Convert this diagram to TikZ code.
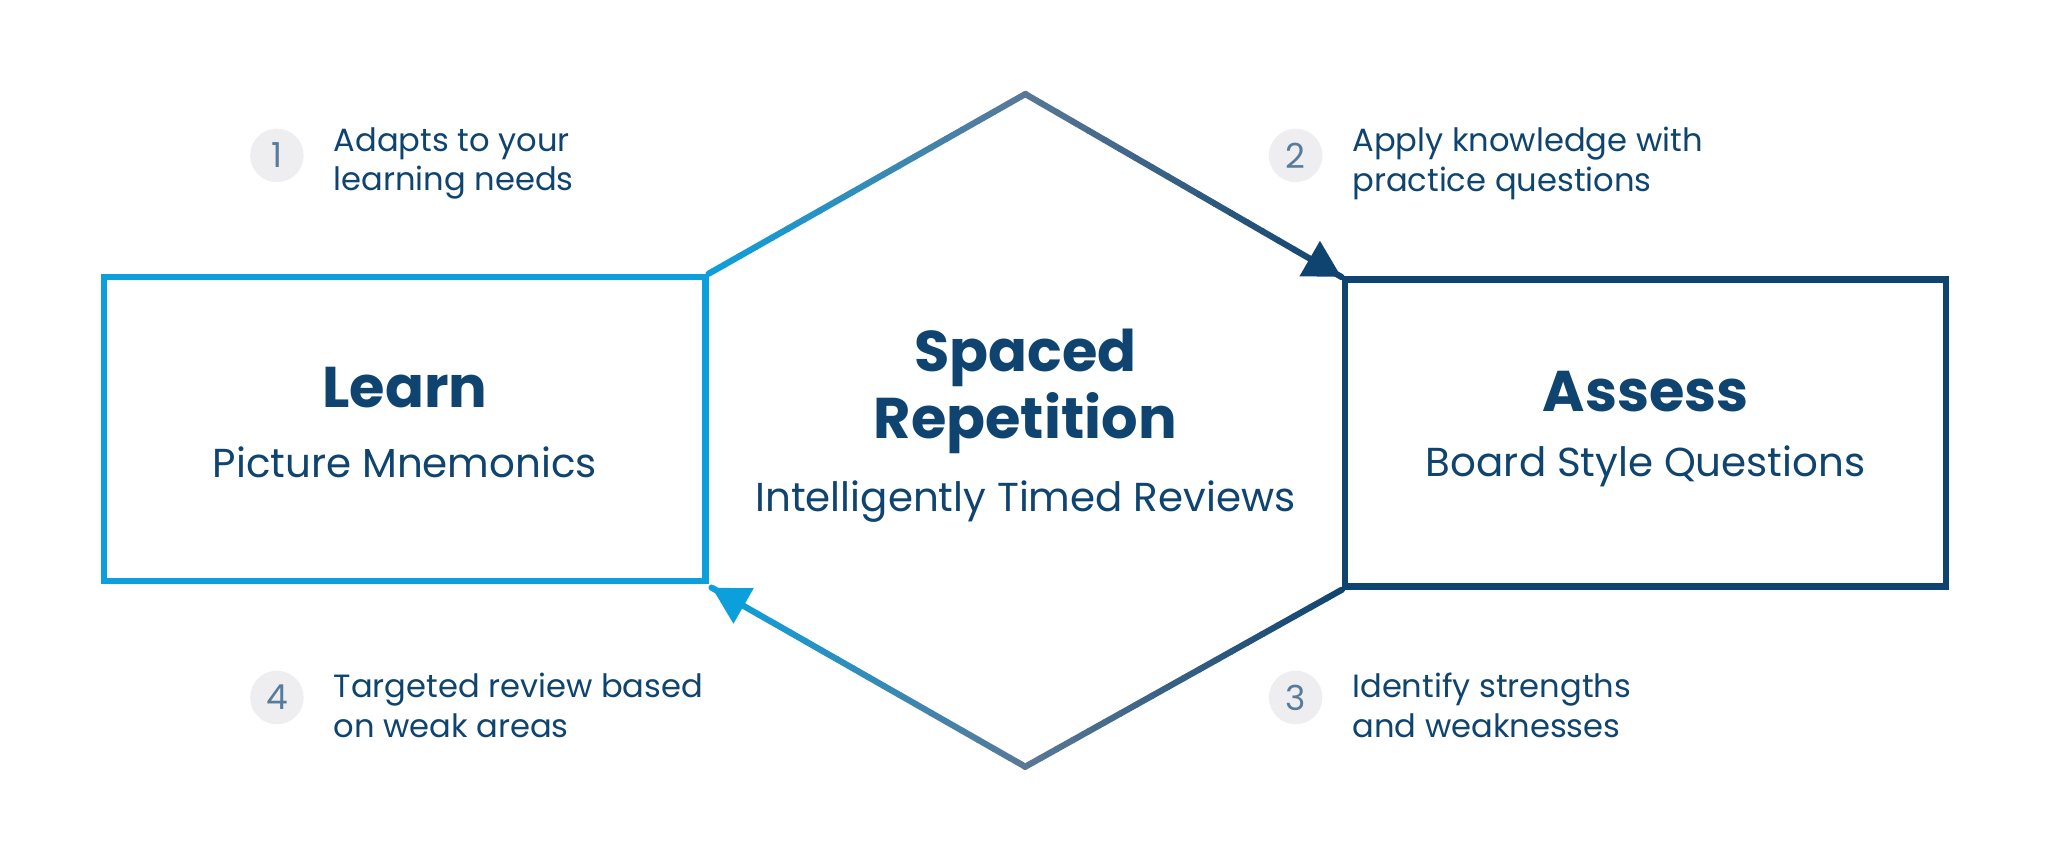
\documentclass[tikz,border=0pt]{standalone}
\usepackage{fontspec}
\setmainfont{Poppins}
\usetikzlibrary{arrows.meta,calc}
\definecolor{cA}{HTML}{0BA0DC}
\definecolor{cB}{HTML}{5A7896}
\definecolor{cC}{HTML}{0F4470}
\definecolor{cG}{HTML}{EEEEF0}
\begin{document}
\begin{tikzpicture}[x=0.01cm,y=-0.01cm,
  box/.style={draw,line width=1.35pt},
  num/.style={circle,fill=cG,minimum size=0.41cm,inner sep=0pt,text=cC!70,font=\fontsize{7.5}{9}\selectfont},
  note/.style={anchor=west,align=left,text=cC,font=\fontsize{7}{8.6}\selectfont},
  title/.style={text=cC,font=\fontsize{12.5}{13.5}\selectfont\bfseries,align=center},
  sub/.style={text=cC,font=\fontsize{8.8}{10}\selectfont}]
\useasboundingbox (0,0) rectangle (1568,660);
\node[box,draw=cA,minimum width=4.6cm,minimum height=2.33cm] (learn) at (310,328.5) {};
\node[box,draw=cC,minimum width=4.6cm,minimum height=2.35cm] (assess) at (1260,331.5) {};
\coordinate (top) at (785,72);
\coordinate (bot) at (785,587);
\coordinate (tl) at (learn.north east);
\coordinate (br) at (assess.south west);
\coordinate (ar) at (1027,212);
\coordinate (al) at (545,450);
\foreach \s/\e/\ca/\cb in {tl/top/cA/cB, top/ar/cB/cC, br/bot/cC/cB, bot/al/cB/cA}{
  \foreach \i in {0,...,19}{
    \pgfmathsetmacro\p{100-(\i+0.5)*5}
    \draw[line width=1.35pt,color=\ca!\p!\cb,line cap=round] ($(\s)!\i/20!(\e)$) -- ($(\s)!\i/20+0.051!(\e)$);
  }
}
\draw[line width=1.35pt,cC,-{Triangle[length=0.28cm,width=0.3cm]}] ($(top)!0.9!(ar)$) -- (ar);
\draw[line width=1.35pt,cA,-{Triangle[length=0.28cm,width=0.3cm]}] ($(bot)!0.9!(al)$) -- (al);
\node[title] (lt) at (310,297) {Learn};
\node[sub] (ls) at (310,354) {Picture Mnemonics};
\node[title] (at) at (1260,300) {Assess};
\node[sub] (as) at (1260,357) {Board Style Questions};
\node[title,font=\fontsize{12.5}{14.6}\selectfont\bfseries] (st) at (785,300) {Spaced\\Repetition};
\node[sub] (ss) at (785,384) {Intelligently Timed Reviews};
\node[num] (n1) at (212,119) {1};
\node[num] (n2) at (992,119) {2};
\node[num] (n3) at (992,534) {3};
\node[num] (n4) at (212,534) {4};
\node[note] at (243,125) {Adapts to your\\learning needs};
\node[note] at (1023,125) {Apply knowledge with\\practice questions};
\node[note] at (1023,540) {Identify strengths\\and weaknesses};
\node[note] at (243,540) {Targeted review based\\on weak areas};
\end{tikzpicture}
\end{document}
